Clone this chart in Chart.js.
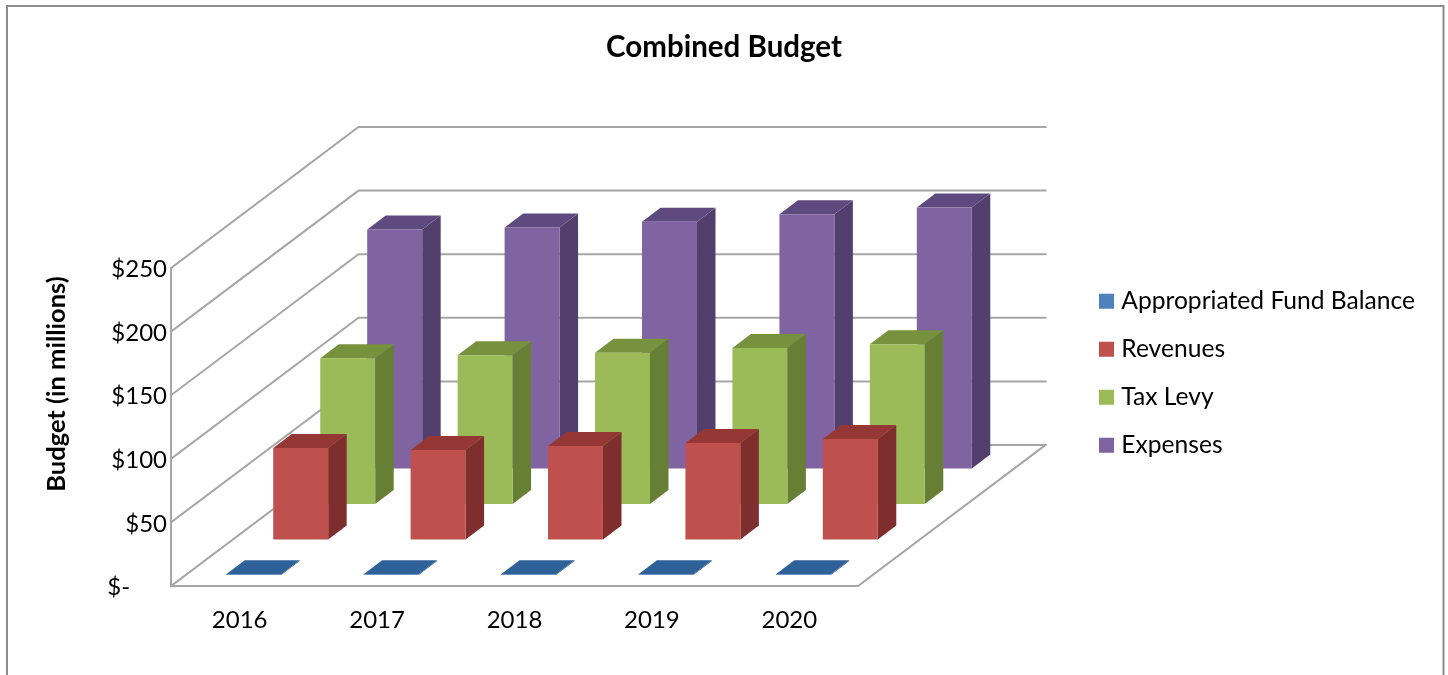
<!DOCTYPE html>
<html><head><meta charset="utf-8">
<style>html,body{margin:0;padding:0;background:#fff}canvas{display:block}</style>
<script src="https://cdn.jsdelivr.net/npm/chart.js@4/dist/chart.umd.min.js"></script>
</head><body>
<canvas id="c" width="1448" height="675"></canvas>
<script>
const categories = ["2016","2017","2018","2019","2020"];
const appropriatedFundBalance = [0.5,0.5,0.5,0.5,0.5];
const revenues = [71.9,70.4,73.5,75.9,79];
const taxLevy = [114.5,117,119,122.7,125.5];
const expenses = [187.9,189.5,194,199.8,205.2];
const seriesNames = ["Appropriated Fund Balance","Revenues","Tax Levy","Expenses"];
const frontColors = ["#4F81BD","#C0504D","#9BBB59","#8064A2"];
const topColors = ["#2F6199","#953735","#76923C","#5F4A80"];
const sideColors = ["#24497A","#7E2E2C","#667F35","#533F6E"];
const yTicks = {0:"$-      ",50:"$50",100:"$100",150:"$150",200:"$200",250:"$250"};

const FONT = "Lato, sans-serif", TICK = 24, LEGEND = 24.6;
const WALL = {dx:187.5, dy:-141};
const BAR_DEPTH = {dx:18.5, dy:-14};
const seriesOffset = i => ({dx:14+47*i, dy:-(11+35.5*i)});
const GRID = "#A6A6A6";

const scene = {
  id:"scene",
  beforeDraw(chart){
    const c = chart.ctx; c.save();
    c.strokeStyle="#8C8C8C"; c.lineWidth=2;
    c.strokeRect(7,6,1436.5,700);
    c.restore();
  },
  beforeLayout(chart){
    const l = chart.legend;
    if(l && !l._wrapped){
      const f = l.fit;
      l.fit = function(){ f.call(this); this.width = 590; };
      l._wrapped = true;
    }
  },
  afterLayout(chart){
    const l = chart.legend, pad = l.options.labels.padding;
    l.left = 1104 - pad; l.top = 301.3 - LEGEND/2 - pad;
    const y = chart.scales.y;
    if(!y._shifted){
      const d = y.drawTitle;
      y.drawTitle = function(){ const c=this.ctx; c.save(); c.translate(0,-43); d.call(this); c.restore(); };
      y._shifted = true;
    }
  },
  beforeDatasetsDraw(chart){
    const c = chart.ctx, y = chart.scales.y, a = chart.chartArea;
    c.save(); c.strokeStyle=GRID; c.lineWidth=2; c.lineCap="square"; c.lineJoin="miter";
    y.ticks.forEach(t=>{
      const p = y.getPixelForValue(t.value);
      c.beginPath(); c.moveTo(a.left,p); c.lineTo(a.left+WALL.dx,p+WALL.dy); c.lineTo(a.right+WALL.dx,p+WALL.dy); c.stroke();
    });
    c.beginPath();
    c.moveTo(a.left,a.top); c.lineTo(a.left,a.bottom); c.lineTo(a.right,a.bottom); c.lineTo(a.right+WALL.dx,a.bottom+WALL.dy);
    c.stroke();
    c.restore();
  },
  beforeDatasetDraw(chart,args){
    const i = args.index, o = seriesOffset(i), c = chart.ctx;
    c.save(); c.translate(o.dx,o.dy);
    args.meta.data.forEach(b=>{
      const L=b.x-b.width/2, R=b.x+b.width/2, T=b.y, B=b.base, d=BAR_DEPTH;
      c.fillStyle=sideColors[i];
      c.beginPath(); c.moveTo(R,T); c.lineTo(R+d.dx,T+d.dy); c.lineTo(R+d.dx,B+d.dy); c.lineTo(R,B); c.closePath(); c.fill();
      c.fillStyle=topColors[i];
      c.beginPath(); c.moveTo(L,T); c.lineTo(L+d.dx,T+d.dy); c.lineTo(R+d.dx,T+d.dy); c.lineTo(R,T); c.closePath(); c.fill();
    });
  },
  afterDatasetDraw(chart){ chart.ctx.restore(); }
};

const series = [appropriatedFundBalance,revenues,taxLevy,expenses];
new Chart(document.getElementById("c"),{
  type:"bar",
  data:{labels:categories,datasets:series.map((d,i)=>({label:seriesNames[i],data:d,backgroundColor:frontColors[i],clip:false,borderWidth:0}))},
  plugins:[scene],
  options:{
    responsive:false,animation:false,
    grouped:false,barPercentage:0.4,categoryPercentage:1,
    layout:{padding:0},
    plugins:{
      tooltip:{enabled:false},
      title:{display:true,text:"Combined Budget",color:"#000",font:{family:FONT,size:29.5,weight:"bold"},padding:{top:29.3,bottom:203.3}},
      legend:{position:"right",align:"start",labels:{
        color:"#000",font:{family:FONT,size:LEGEND},boxWidth:5,boxHeight:5,padding:23.4,
        generateLabels:c=>c.data.datasets.map((d,i)=>({text:d.label,fillStyle:d.backgroundColor,strokeStyle:d.backgroundColor,lineWidth:10,datasetIndex:i,hidden:false}))
      }}
    },
    scales:{
      x:{grid:{display:false,drawTicks:false},border:{display:false},
         ticks:{color:"#000",font:{family:FONT,size:TICK},padding:20,maxRotation:0},
         afterFit:s=>{s.height=89;}},
      y:{min:0,max:250,grid:{display:false,drawTicks:false},border:{display:false},
         ticks:{stepSize:50,color:"#000",font:{family:FONT,size:TICK},padding:4,labelOffset:1.5,callback:v=>yTicks[v]},
         title:{display:true,text:"Budget (in millions)",color:"#000",font:{family:FONT,size:25.5,weight:"bold"},padding:{top:41.7,bottom:0}},
         afterFit:s=>{s.width=171;}}
    }
  }
});
</script></body></html>
